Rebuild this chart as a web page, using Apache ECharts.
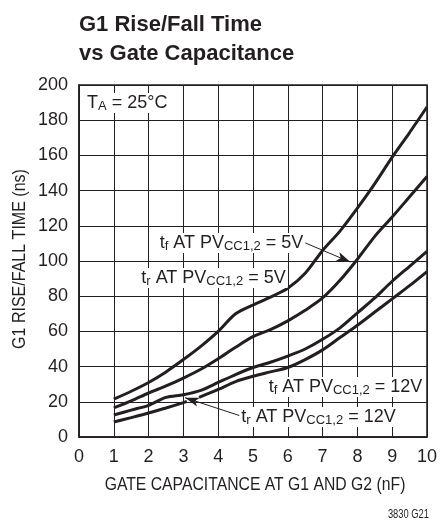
<!DOCTYPE html>
<html><head><meta charset="utf-8">
<script src="https://cdn.jsdelivr.net/npm/echarts@6/dist/echarts.min.js"></script>
<style>html,body{margin:0;padding:0;background:#fff}#c{width:440px;height:523px}</style>
</head><body><div id="c"></div>
<script>
// ---- data ----
const capacitance = [1,1.5,2,2.5,3,3.5,4,4.5,5,5.5,6,6.5,7,7.5,8,8.5,9,9.5,10];
const tfAt5V  = [21.5,26,31,37,44,51.5,60,70,75,79.5,84.5,93,106,117,130,144,159,173,187.5];
const trAt5V  = [16.5,20.5,25,29,33.5,38.5,44.5,51,57,61,66,72,79,89,101,114,125,136.5,148];
const tfAt12V = [12.5,15.3,18,22.5,24,26.5,31,35.5,39.5,42.5,46,50,55.5,62,70.5,79,88.5,97,105.5];
const trAt12VCap = [1,1.5,2,2.5,3,3.1,3.25,3.45,4,4.5,5,5.5,6,6.5,7,7.5,8,8.5,9,9.5,10];
const trAt12V    = [8.5,11,13.6,16.5,19.5,20.2,null,22.5,27,31.5,34.5,37,39.5,44,49.5,56.5,63.5,71,78.5,86,94];
const xTicks = [0,1,2,3,4,5,6,7,8,9,10];
const yTicks = [0,20,40,60,80,100,120,140,160,180,200];
const arrow5V  = [[6.32,111.8],[7.8,99.4]];
const arrow12V = [[4.67,11.8],[3.05,22.3]];
const titleText = 'G1 Rise/Fall Time\nvs Gate Capacitance';
const xName = 'GATE CAPACITANCE AT G1 AND G2 (nF)';
const yName = 'G1 RISE/FALL TIME (ns)';

const FONT = "'Liberation Sans Narrow','Arial Narrow','Liberation Sans',Arial,sans-serif";
const INK = '#231f20';
function pairs(xs, ys){ return xs.map((x,i)=>[x, ys[i]]); }
const lineSeries = (name, xs, ys, extra) => Object.assign({
  name, type:'line', data: pairs(xs, ys), symbol:'none', smooth:0.3, connectNulls:false,
  lineStyle:{color:INK, width:3}, z:5, silent:true
}, extra||{});

const richSub = {
  s:{fontSize:13, padding:[7,0,0,0], fontFamily:FONT, color:INK},
  n:{fontSize:18, fontFamily:FONT, color:INK}
};
function label(txt, x, y){
  return {type:'text', x, y, z:20, silent:true,
    style:{text:txt, rich:richSub, fontSize:18, fontFamily:FONT, fill:INK,
      align:'center', verticalAlign:'middle', backgroundColor:'#fff', padding:[0,2]}};
}

const chart = echarts.init(document.getElementById('c'), null, {renderer:'canvas'});
chart.setOption({
  animation:false,
  backgroundColor:'#fff',
  grid:{left:79, right:9, top:85, bottom:86, show:true, borderColor:INK, borderWidth:1.5, containLabel:false},
  xAxis:{type:'value', min:0, max:10, interval:1,
    axisLine:{lineStyle:{color:INK, width:1.5}}, axisTick:{show:false},
    axisLabel:{fontSize:18, fontFamily:FONT, color:INK, margin:11,
      formatter:v=> xTicks.includes(v) ? String(v) : ''},
    splitLine:{show:true, lineStyle:{color:INK, width:1}}},
  yAxis:{type:'value', min:0, max:200, interval:20,
    axisLine:{show:true, lineStyle:{color:INK, width:1.5}}, axisTick:{show:false},
    axisLabel:{fontSize:18, fontFamily:FONT, color:INK, margin:11,
      formatter:v=> yTicks.includes(v) ? String(v) : ''},
    splitLine:{show:true, lineStyle:{color:INK, width:1}}},
  series:[
    lineSeries('tf 5V', capacitance, tfAt5V, {
      markLine:{silent:true, symbol:['none','arrow'], symbolSize:[7,14], animation:false,
        label:{show:false}, lineStyle:{color:INK, width:1, type:'solid'},
        data:[[{coord:arrow5V[0]},{coord:arrow5V[1]}],[{coord:arrow12V[0]},{coord:arrow12V[1]}]]}
    }),
    lineSeries('tr 5V', capacitance, trAt5V),
    lineSeries('tf 12V', capacitance, tfAt12V),
    lineSeries('tr 12V', trAt12VCap, trAt12V)
  ],
  graphic:[
    {type:'text', x:79, y:10, silent:true,
      style:{text:titleText, fontSize:22, fontWeight:'bold',
        fontFamily:"'Liberation Sans',Arial,sans-serif", fill:INK, lineHeight:29}},
    {type:'text', x:87, y:103, z:20, silent:true,
      style:{text:'{n|T}{s|A}{n| = 25°C}', rich:richSub, fontSize:18, fontFamily:FONT, fill:INK,
        align:'left', verticalAlign:'middle', backgroundColor:'#fff'}},
    label('{n|t}{s|f}{n| AT PV}{s|CC1,2}{n| = 5V}', 231.5, 243),
    label('{n|t}{s|r}{n| AT PV}{s|CC1,2}{n| = 5V}', 213.5, 278),
    label('{n|t}{s|f}{n| AT PV}{s|CC1,2}{n| = 12V}', 345.5, 387),
    label('{n|t}{s|r}{n| AT PV}{s|CC1,2}{n| = 12V}', 318.5, 417),
    {type:'text', x:255, y:485, silent:true, scaleX:0.875,
      style:{text:xName, fontSize:18, fontFamily:FONT, fill:INK, align:'center', verticalAlign:'middle'}},
    {type:'text', x:20, y:259, silent:true, rotation:Math.PI/2, scaleX:0.89,
      style:{text:yName, fontSize:18, fontFamily:FONT, fill:INK, align:'center', verticalAlign:'middle'}},
    {type:'text', x:429, y:515, silent:true, scaleX:0.78,
      style:{text:'3830 G21', fontSize:12, fontFamily:FONT, fill:INK, align:'right', verticalAlign:'middle'}}
  ]
});
</script></body></html>
